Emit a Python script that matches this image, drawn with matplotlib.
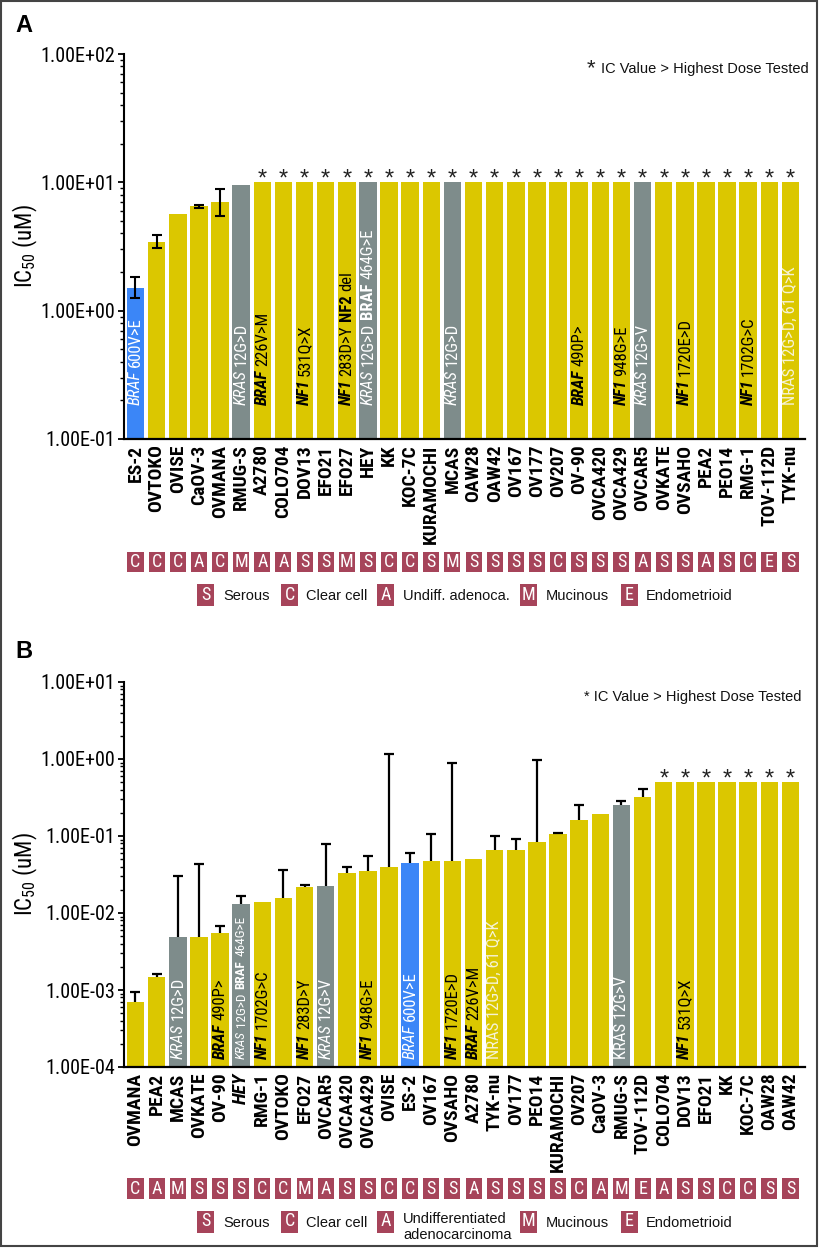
import numpy as np
import matplotlib.pyplot as plt
from matplotlib import font_manager
from matplotlib.patches import Rectangle
from matplotlib.ticker import LogLocator, NullFormatter

# ---------------- data ----------------
# panel A : IC50 (uM), highest dose tested = 10
a_lines = ["ES-2", "OVTOKO", "OVISE", "CaOV-3", "OVMANA", "RMUG-S", "A2780", "COLO704",
           "DOV13", "EFO21", "EFO27", "HEY", "KK", "KOC-7C", "KURAMOCHI", "MCAS",
           "OAW28", "OAW42", "OV167", "OV177", "OV207", "OV-90", "OVCA420", "OVCA429",
           "OVCAR5", "OVKATE", "OVSAHO", "PEA2", "PEO14", "RMG-1", "TOV-112D", "TYK-nu"]
a_ic50 = [1.51, 3.45, 5.7, 6.5, 7.0, 9.5, 10.0, 10.0,
          10.0, 10.0, 10.0, 10.0, 10.0, 10.0, 10.0, 10.0,
          10.0, 10.0, 10.0, 10.0, 10.0, 10.0, 10.0, 10.0,
          10.0, 10.0, 10.0, 10.0, 10.0, 10.0, 10.0, 10.0]
a_err_lo = {"ES-2": 1.26, "OVTOKO": 3.1, "CaOV-3": 6.35, "OVMANA": 5.5}
a_err_hi = {"ES-2": 1.82, "OVTOKO": 3.9, "CaOV-3": 6.65, "OVMANA": 8.8}
a_hist = ["C", "C", "C", "A", "C", "M", "A", "A", "S", "S", "M", "S", "C", "C", "S", "M",
          "S", "S", "S", "S", "C", "S", "S", "S", "A", "S", "S", "A", "S", "C", "E", "S"]
a_max_dose = 10.0
a_yticks = [1e-1, 1e0, 1e1, 1e2]

# panel B : IC50 (uM), highest dose tested = 0.5
b_lines = ["OVMANA", "PEA2", "MCAS", "OVKATE", "OV-90", "HEY", "RMG-1", "OVTOKO",
           "EFO27", "OVCAR5", "OVCA420", "OVCA429", "OVISE", "ES-2", "OV167", "OVSAHO",
           "A2780", "TYK-nu", "OV177", "PEO14", "KURAMOCHI", "OV207", "CaOV-3", "RMUG-S",
           "TOV-112D", "COLO704", "DOV13", "EFO21", "KK", "KOC-7C", "OAW28", "OAW42"]
b_ic50 = [6.9e-4, 1.46e-3, 4.9e-3, 4.9e-3, 5.5e-3, 1.3e-2, 1.37e-2, 1.57e-2,
          2.2e-2, 2.26e-2, 3.3e-2, 3.5e-2, 3.9e-2, 4.4e-2, 4.7e-2, 4.8e-2,
          5.1e-2, 6.5e-2, 6.6e-2, 8.3e-2, 1.07e-1, 1.6e-1, 1.95e-1, 2.5e-1,
          3.2e-1, 0.5, 0.5, 0.5, 0.5, 0.5, 0.5, 0.5]
b_err_hi = {"OVMANA": 9.5e-4, "PEA2": 1.63e-3, "MCAS": 3.0e-2, "OVKATE": 4.35e-2,
            "OV-90": 6.7e-3, "HEY": 1.67e-2, "OVTOKO": 3.6e-2, "EFO27": 2.28e-2,
            "OVCAR5": 7.9e-2, "OVCA420": 3.9e-2, "OVCA429": 5.5e-2, "OVISE": 1.16,
            "ES-2": 6.0e-2, "OV167": 1.07e-1, "OVSAHO": 0.89, "TYK-nu": 1.0e-1,
            "OV177": 9.2e-2, "PEO14": 0.97, "KURAMOCHI": 1.1e-1, "OV207": 2.5e-1,
            "RMUG-S": 2.86e-1, "TOV-112D": 4.06e-1}
b_hist = ["C", "A", "M", "S", "S", "S", "C", "C", "M", "A", "S", "S", "C", "C", "S", "S",
          "A", "S", "S", "S", "S", "C", "A", "M", "E", "A", "S", "S", "C", "C", "S", "S"]
b_max_dose = 0.5
b_yticks = [1e-4, 1e-3, 1e-2, 1e-1, 1e0, 1e1]

braf600_lines = ["ES-2"]
kras_lines = ["RMUG-S", "HEY", "MCAS", "OVCAR5"]

# mutation labels: (text, style) ; style n / i / b / bi
a_mut = {
    "ES-2": [("BRAF", "i"), ("600V>E", "n")],
    "RMUG-S": [("KRAS", "i"), ("12G>D", "n")],
    "A2780": [("BRAF", "bi"), ("226V>M", "n")],
    "DOV13": [("NF1", "bi"), ("531Q>X", "n")],
    "EFO27": [("NF1", "bi"), ("283D>Y", "n"), ("NF2", "b"), ("del", "n")],
    "HEY": [("KRAS", "i"), ("12G>D", "n"), ("BRAF", "b"), ("464G>E", "n")],
    "MCAS": [("KRAS", "i"), ("12G>D", "n")],
    "OV-90": [("BRAF", "bi"), ("490P>", "n")],
    "OVCA429": [("NF1", "bi"), ("948G>E", "n")],
    "OVCAR5": [("KRAS", "i"), ("12G>V", "n")],
    "OVSAHO": [("NF1", "bi"), ("1720E>D", "n")],
    "RMG-1": [("NF1", "bi"), ("1702G>C", "n")],
    "TYK-nu": [("NRAS 12G>D, 61 Q>K", "n")],
}
b_mut = {
    "MCAS": [("KRAS", "i"), ("12G>D", "n")],
    "OV-90": [("BRAF", "bi"), ("490P>", "n")],
    "HEY": [("KRAS", "i"), ("12G>D", "n"), ("BRAF", "b"), ("464G>E", "n")],
    "RMG-1": [("NF1", "bi"), ("1702G>C", "n")],
    "EFO27": [("NF1", "bi"), ("283D>Y", "n")],
    "OVCAR5": [("KRAS", "i"), ("12G>V", "n")],
    "OVCA429": [("NF1", "bi"), ("948G>E", "n")],
    "ES-2": [("BRAF", "i"), ("600V>E", "n")],
    "OVSAHO": [("NF1", "bi"), ("1720E>D", "n")],
    "A2780": [("BRAF", "bi"), ("226V>M", "n")],
    "TYK-nu": [("NRAS 12G>D, 61 Q>K", "n")],
    "RMUG-S": [("KRAS 12G>V", "n")],
    "DOV13": [("NF1", "bi"), ("531Q>X", "n")],
}

hist_a_names = [("S", "Serous"), ("C", "Clear cell"), ("A", "Undiff. adenoca."),
                ("M", "Mucinous"), ("E", "Endometrioid")]
hist_b_names = [("S", "Serous"), ("C", "Clear cell"), ("A", "Undifferentiated\nadenocarcinoma"),
                ("M", "Mucinous"), ("E", "Endometrioid")]

# ---------------- style ----------------
GOLD = "#DBC700"
GREY = "#7E8C8B"
BLUE = "#3B86F7"
BOX = "#A6445A"
LIGHT = "#F6F3D6"

# pick a narrow sans (Helvetica Narrow look) that has bold and italic faces
faces = {}
for f in font_manager.fontManager.ttflist:
    faces.setdefault(f.name, set()).add((f.style, int(f.weight) if str(f.weight).isdigit() else 400))
NARROW, k = "Liberation Sans", 0.86
for cand in ["Liberation Sans Narrow", "Arial Narrow", "Nimbus Sans Narrow", "Roboto Condensed",
             "Open Sans Condensed", "PT Sans Narrow", "Archivo Narrow"]:
    fs = faces.get(cand, set())
    if any(w >= 700 for s, w in fs) and any(s == "italic" for s, w in fs):
        NARROW, k = cand, 1.0
        break

plt.rcParams["font.family"] = ["Liberation Sans", "DejaVu Sans"]
plt.rcParams["mathtext.default"] = "regular"

W, H = 819, 1248
fig = plt.figure(figsize=(W / 100, H / 100), dpi=100)


def px(x0, y0, x1, y1):
    return [x0 / W, 1 - y1 / H, (x1 - x0) / W, (y1 - y0) / H]


def bar_color(name):
    if name in braf600_lines:
        return BLUE
    if name in kras_lines:
        return GREY
    return GOLD


def mut_label(ax, x, yfrac, parts, color, size):
    prev = None
    for txt, st in parts:
        kw = dict(rotation=90, ha="center", va="bottom", color=color, fontsize=size,
                  fontweight="bold" if "b" in st else "normal",
                  fontstyle="italic" if "i" in st else "normal", family=NARROW)
        if prev is None:
            prev = ax.annotate(txt, xy=(x, yfrac), xycoords=("data", "axes fraction"), **kw)
        else:
            prev = ax.annotate(txt, xy=(0.5, 1.0), xycoords=prev, xytext=(0, 2.8),
                               textcoords="offset points", **kw)


def panel(ax, lines, vals, lo, hi, max_dose, muts, yticks, label_y, mut_size_hey, both_err):
    x = np.arange(len(lines))
    ax.bar(x, vals, width=0.83, color=[bar_color(n) for n in lines], zorder=2)
    for i, n in enumerate(lines):
        if n in hi:
            if both_err:
                ax.errorbar(i, vals[i], yerr=[[vals[i] - lo[n]], [hi[n] - vals[i]]], fmt="none",
                            ecolor="black", elinewidth=1.5, capsize=3.5, capthick=1.5, zorder=3)
            else:
                ax.vlines(i, vals[i], hi[n], color="black", lw=1.6, zorder=3)
                ax.plot(i, hi[n], ls="none", marker="_", ms=7, mew=1.6, color="black", zorder=3)
        if vals[i] >= max_dose:
            ax.annotate("*", xy=(i, vals[i]), xytext=(0, -2.6), textcoords="offset points",
                        ha="center", va="baseline", fontsize=17, color="#222222")
        if n in muts:
            white = n in braf600_lines or n in kras_lines
            col = "white" if white else (LIGHT if n == "TYK-nu" else "black")
            size = mut_size_hey if n == "HEY" else 12 * k
            mut_label(ax, i, label_y, muts[n], col, size)
    ax.set_yscale("log")
    ax.set_ylim(yticks[0], yticks[-1])
    ax.set_xlim(-0.544, len(lines) - 1 + 0.686)
    ax.set_yticks(yticks)
    ax.set_yticklabels(["{:.2E}".format(v) for v in yticks], fontsize=14.5 * k, family=NARROW)
    ax.yaxis.set_minor_locator(LogLocator(base=10, subs=np.arange(2, 10)))
    ax.yaxis.set_minor_formatter(NullFormatter())
    for s in ["top", "right"]:
        ax.spines[s].set_visible(False)
    ax.spines["left"].set_linewidth(1.5)
    ax.spines["bottom"].set_linewidth(1.6)
    ax.tick_params(axis="y", which="major", length=4.5, width=1.3, pad=2)
    ax.tick_params(axis="y", which="minor", length=2.8, width=1.0)
    ax.set_xticks(x)
    ax.set_xticklabels(lines, rotation=90, fontweight="bold", fontsize=14 * k, family=NARROW)
    ax.tick_params(axis="x", length=0, pad=4)
    ax.set_ylabel("IC$_{50}$ (uM)", fontsize=16.5 * k, family=NARROW)
    ax.yaxis.set_label_coords(-0.124, 0.5)


def hist_row(ax, hist, n):
    for i, h in enumerate(hist):
        ax.add_patch(Rectangle((i - 0.38, 0), 0.76, 1, facecolor=BOX, edgecolor="none"))
        ax.text(i, 0.48, h, color="white", ha="center", va="center", fontsize=13 * k, family=NARROW)
    ax.set_xlim(-0.544, n - 1 + 0.686)
    ax.set_ylim(0, 1)
    ax.axis("off")


def hist_legend(items, yc, xs, txs):
    for (code, name), bx, tx in zip(items, xs, txs):
        fig.patches.append(Rectangle((bx / W, 1 - (yc + 11) / H), 17 / W, 22 / H,
                                     transform=fig.transFigure, facecolor=BOX, edgecolor="none"))
        fig.text((bx + 8.5) / W, 1 - (yc - 0.5) / H, code, color="white", ha="center", va="center",
                 fontsize=13 * k, family=NARROW)
        if "\n" in name:
            fig.text(tx / W, 1 - (yc - 10) / H, name, ha="left", va="top",
                     fontsize=10.5, color="#111111", linespacing=1.2)
        else:
            fig.text(tx / W, 1 - (yc + 1) / H, name, ha="left", va="center",
                     fontsize=10.5, color="#111111")


axA = fig.add_axes(px(124, 54, 805, 439))
axB = fig.add_axes(px(124, 682, 805, 1067))
boxA = fig.add_axes(px(124, 552, 805, 572))
boxB = fig.add_axes(px(124, 1178, 805, 1199))

panel(axA, a_lines, a_ic50, a_err_lo, a_err_hi, a_max_dose, a_mut, a_yticks, 0.088, 12 * k, True)
panel(axB, b_lines, b_ic50, {}, b_err_hi, b_max_dose, b_mut, b_yticks, 0.021, 9.5 * k, False)
for t in axB.get_xticklabels():
    if t.get_text() == "HEY":
        t.set_fontstyle("italic")

hist_row(boxA, a_hist, len(a_lines))
hist_row(boxB, b_hist, len(b_lines))

leg_x = [197, 281, 377, 520, 621]
leg_tx = [223, 306, 403, 546, 646]
hist_legend(hist_a_names, 595, leg_x, leg_tx)
hist_legend(hist_b_names, 1222, leg_x, leg_tx)

fig.text(15 / W, 1 - 25 / H, "A", fontsize=17, fontweight="bold", va="center", ha="left")
fig.text(15 / W, 1 - 652 / H, "B", fontsize=17, fontweight="bold", va="center", ha="left")

fig.text(591 / W, 1 - 74 / H, "*", fontsize=16, ha="center", va="baseline", color="#222222")
fig.text(601 / W, 1 - 73 / H, "IC Value > Highest Dose Tested", fontsize=10.5,
         ha="left", va="baseline", color="#111111")
fig.text(584 / W, 1 - 701 / H, "* IC Value > Highest Dose Tested", fontsize=10.5,
         ha="left", va="baseline", color="#111111")

fig.patches.append(Rectangle((1 / W, 2 / H), (W - 3) / W, (H - 3) / H, transform=fig.transFigure,
                             facecolor="none", edgecolor="#444444", lw=1.5))

fig.savefig("out.png", dpi=100)
